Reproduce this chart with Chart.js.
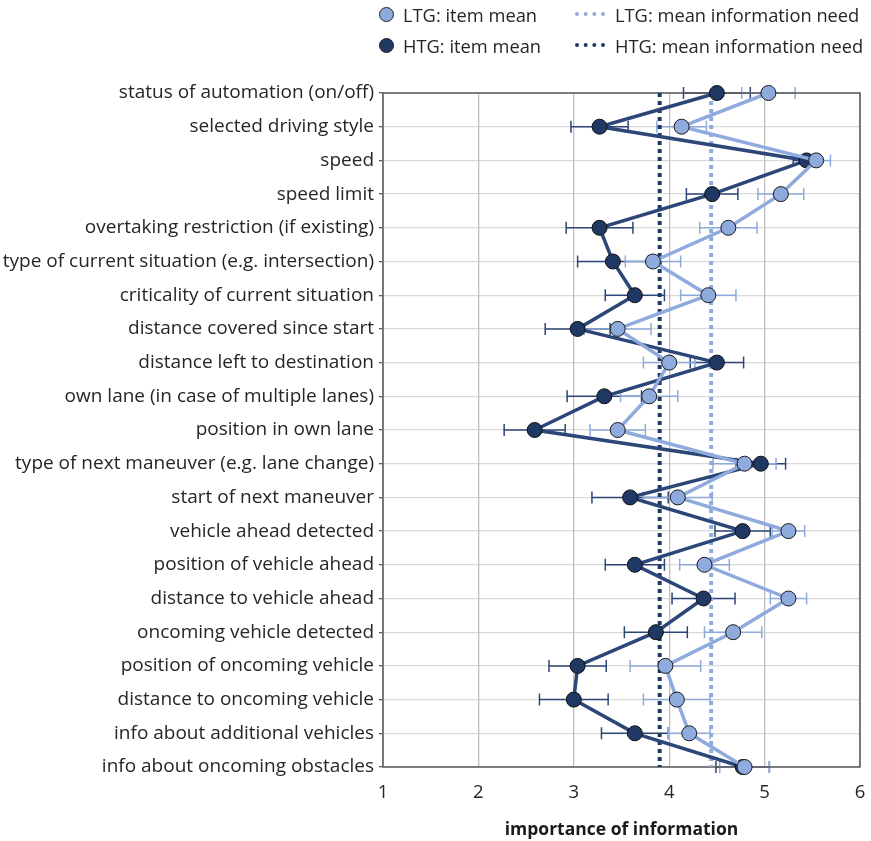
<!DOCTYPE html>
<html>
<head>
<meta charset="utf-8">
<script src="https://cdn.jsdelivr.net/npm/chart.js@4"></script>
<style>
  body { margin: 0; background: #fff; }
  #wrap { position: relative; width: 871px; height: 841px; }
  #legend { position: absolute; left: 0; top: 0; width: 871px; height: 70px;
    font-family: "Open Sans", sans-serif; font-size: 18.3px; color: #262626; }
  .item { position: absolute; display: flex; align-items: center; height: 26px; white-space: nowrap; }
  .dot { width: 13px; height: 13px; border-radius: 50%; border: 1px solid #222; margin-right: 9px; }
  .dash { width: 30px; height: 0; border-top: 4px dotted; margin-right: 10px; }
</style>
</head>
<body>
<div id="wrap">
  <canvas id="chart" width="871" height="841"></canvas>
  <div id="legend">
    <div class="item" style="left:379px;top:1px"><span class="dot" style="background:#8FAADC"></span>LTG: item mean</div>
    <div class="item" style="left:575px;top:1px"><span class="dash" style="border-color:#8FAADC"></span>LTG: mean information need</div>
    <div class="item" style="left:379px;top:32px"><span class="dot" style="background:#203864"></span>HTG: item mean</div>
    <div class="item" style="left:575px;top:32px"><span class="dash" style="border-color:#203864"></span>HTG: mean information need</div>
  </div>
</div>
<script>
// categories (top to bottom)
const categories = [
  "status of automation (on/off)",
  "selected driving style",
  "speed",
  "speed limit",
  "overtaking restriction (if existing)",
  "type of current situation (e.g. intersection)",
  "criticality of current situation",
  "distance covered since start",
  "distance left to destination",
  "own lane (in case of multiple lanes)",
  "position in own lane",
  "type of next maneuver (e.g. lane change)",
  "start of next maneuver",
  "vehicle ahead detected",
  "position of vehicle ahead",
  "distance to vehicle ahead",
  "oncoming vehicle detected",
  "position of oncoming vehicle",
  "distance to oncoming vehicle",
  "info about additional vehicles",
  "info about oncoming obstacles"
];

// LTG item means and error bar half widths
const ltgMean = [5.04, 4.13, 5.54, 5.17, 4.62, 3.83, 4.41, 3.46, 4.00, 3.79, 3.46, 4.79, 4.09, 5.25, 4.37, 5.25, 4.67, 3.96, 4.08, 4.21, 4.79];
const ltgErr  = [0.28, 0.26, 0.15, 0.24, 0.30, 0.29, 0.29, 0.35, 0.27, 0.30, 0.29, 0.33, 0.36, 0.17, 0.26, 0.19, 0.30, 0.37, 0.35, 0.22, 0.26];

// HTG item means and error bar half widths
const htgMean = [4.50, 3.27, 5.44, 4.45, 3.27, 3.41, 3.64, 3.04, 4.50, 3.32, 2.59, 4.96, 3.59, 4.77, 3.64, 4.36, 3.86, 3.04, 3.00, 3.64, 4.77];
const htgErr  = [0.35, 0.30, 0.14, 0.27, 0.35, 0.37, 0.31, 0.34, 0.28, 0.39, 0.32, 0.26, 0.40, 0.29, 0.31, 0.33, 0.33, 0.30, 0.36, 0.35, 0.28];

// mean information need
const ltgNeed = 4.44;
const htgNeed = 3.90;

const xTicks = [1, 2, 3, 4, 5, 6];

const LTG = '#8FAADC';
const HTG = '#203864';
const HTG_LINE = '#2C4677';

// error bars, drawn behind the lines and markers
const errorBars = {
  id: 'errorBars',
  beforeDatasetsDraw(chart) {
    const ctx = chart.ctx;
    const xs = chart.scales.x, ys = chart.scales.y;
    const sets = [
      { mean: htgMean, err: htgErr, color: HTG_LINE },
      { mean: ltgMean, err: ltgErr, color: LTG }
    ];
    ctx.save();
    ctx.lineWidth = 1.5;
    sets.forEach(s => {
      ctx.strokeStyle = s.color;
      s.mean.forEach((m, i) => {
        const y = ys.getPixelForValue(i);
        const x1 = xs.getPixelForValue(m - s.err[i]);
        const x2 = xs.getPixelForValue(m + s.err[i]);
        ctx.beginPath();
        ctx.moveTo(x1, y); ctx.lineTo(x2, y);
        ctx.moveTo(x1, y - 6); ctx.lineTo(x1, y + 6);
        ctx.moveTo(x2, y - 6); ctx.lineTo(x2, y + 6);
        ctx.stroke();
      });
    });
    ctx.restore();
  }
};

// frame around the plot area
const frame = {
  id: 'frame',
  beforeDatasetsDraw(chart) {
    const a = chart.chartArea, ctx = chart.ctx;
    ctx.save();
    ctx.strokeStyle = '#595959';
    ctx.lineWidth = 1.5;
    ctx.strokeRect(a.left, a.top, a.right - a.left, a.bottom - a.top);
    ctx.restore();
  }
};

const first = categories[0], last = categories[categories.length - 1];

new Chart(document.getElementById('chart'), {
  type: 'line',
  data: {
    labels: categories,
    datasets: [
      {
        label: 'LTG: item mean',
        data: ltgMean,
        borderColor: LTG,
        backgroundColor: LTG,
        pointBackgroundColor: LTG,
        pointBorderColor: '#1a1a1a',
        pointBorderWidth: 1,
        pointRadius: 7.5,
        borderWidth: 3.5,
        clip: false,
        order: 1
      },
      {
        label: 'HTG: item mean',
        data: htgMean,
        borderColor: HTG_LINE,
        backgroundColor: HTG,
        pointBackgroundColor: HTG,
        pointBorderColor: '#111',
        pointBorderWidth: 1,
        pointRadius: 7.5,
        borderWidth: 3.5,
        clip: false,
        order: 2
      },
      {
        label: 'LTG: mean information need',
        data: [{ x: ltgNeed, y: first }, { x: ltgNeed, y: last }],
        borderColor: LTG,
        borderWidth: 4,
        borderDash: [4, 4],
        pointRadius: 0,
        order: 3
      },
      {
        label: 'HTG: mean information need',
        data: [{ x: htgNeed, y: first }, { x: htgNeed, y: last }],
        borderColor: HTG,
        borderWidth: 4,
        borderDash: [4, 4],
        pointRadius: 0,
        order: 4
      }
    ]
  },
  options: {
    indexAxis: 'y',
    responsive: false,
    animation: false,
    layout: { padding: { top: 93, right: 11, left: 0, bottom: 0 } },
    plugins: { legend: { display: false }, tooltip: { enabled: false } },
    scales: {
      y: {
        type: 'category',
        offset: false,
        afterFit: s => { s.width = 383; s.paddingTop = 0; s.paddingBottom = 0; },
        grid: { color: '#D9D9D9', lineWidth: 1.3, tickLength: 4, tickColor: '#595959' },
        border: { display: false },
        ticks: {
          padding: 5,
          color: '#262626',
          font: { family: 'Open Sans', size: 19 }
        }
      },
      x: {
        type: 'linear',
        min: 1,
        max: 6,
        afterFit: s => { s.height = 74; s.paddingLeft = 0; s.paddingRight = 0; },
        afterBuildTicks: s => { s.ticks = xTicks.map(v => ({ value: v })); },
        grid: { color: '#BFBFBF', lineWidth: 1.3, drawTicks: false },
        border: { display: false },
        ticks: {
          padding: 15,
          color: '#262626',
          font: { family: 'Open Sans', size: 18.5 }
        },
        title: {
          display: true,
          text: 'importance of information',
          color: '#1a1a1a',
          font: { family: 'Open Sans', size: 17.5, weight: 'bold' },
          padding: { top: 4, bottom: 0 }
        }
      }
    }
  },
  plugins: [errorBars, frame]
});
</script>
</body>
</html>
